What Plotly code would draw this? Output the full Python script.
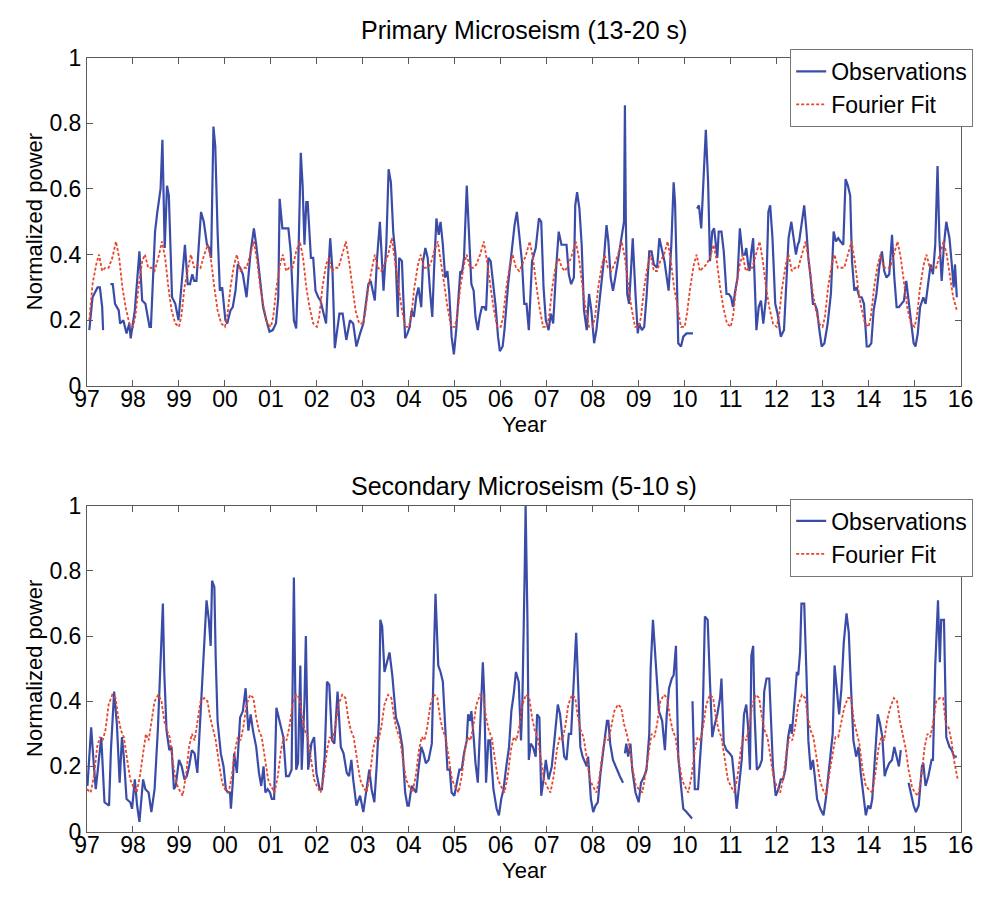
import plotly.graph_objects as go

# ---------------- axes / ticks ----------------
YEAR_TICKS = list(range(1997, 2017))
YEAR_TICK_LABELS = ["97", "98", "99", "00", "01", "02", "03", "04", "05", "06",
                    "07", "08", "09", "10", "11", "12", "13", "14", "15", "16"]
POWER_TICKS = [0, 0.2, 0.4, 0.6, 0.8, 1]
POWER_TICK_LABELS = ["0", "0.2", "0.4", "0.6", "0.8", "1"]

TITLES = ["Primary Microseism (13-20 s)", "Secondary Microseism (5-10 s)"]
X_LABEL = "Year"
Y_LABEL = "Normalized power"
SERIES_NAMES = ["Observations", "Fourier Fit"]

# ---------------- Primary microseism observations ----------------
PRIMARY_OBS_YEAR = [
    1997.05, 1997.12, 1997.23, 1997.28, 1997.33, 1997.35, 1997.43,
    1997.51, 1997.56, 1997.61, 1997.69, 1997.72, 1997.79, 1997.86, 1997.92, 1997.95,
    1998.04, 1998.14, 1998.20, 1998.27, 1998.36, 1998.39, 1998.48, 1998.53, 1998.60,
    1998.64, 1998.69, 1998.74, 1998.78, 1998.85, 1998.92, 1998.99,
    1999.10, 1999.13, 1999.19, 1999.24, 1999.29, 1999.33, 1999.38, 1999.48, 1999.54,
    1999.61, 1999.66, 1999.70, 1999.75, 1999.79, 1999.84, 1999.89, 1999.94,
    2000.01, 2000.05, 2000.12, 2000.17, 2000.23, 2000.28, 2000.33, 2000.39, 2000.47,
    2000.56, 2000.63, 2000.68, 2000.76, 2000.83, 2000.90, 2000.97,
    2001.04, 2001.11, 2001.16, 2001.19, 2001.25, 2001.32, 2001.38, 2001.43, 2001.46,
    2001.50, 2001.55, 2001.59, 2001.65, 2001.69, 2001.73, 2001.77, 2001.80, 2001.87,
    2001.92, 2001.97,
    2002.03, 2002.08, 2002.13, 2002.20, 2002.25, 2002.29, 2002.34, 2002.39, 2002.49,
    2002.56, 2002.64, 2002.72, 2002.79, 2002.86, 2002.94,
    2003.01, 2003.12, 2003.17, 2003.26, 2003.31, 2003.37, 2003.40, 2003.45, 2003.51,
    2003.56, 2003.61, 2003.66, 2003.71, 2003.76, 2003.79, 2003.85, 2003.88, 2003.92, 2003.97,
    2004.02, 2004.06, 2004.11, 2004.16, 2004.21, 2004.27, 2004.31, 2004.36, 2004.41,
    2004.46, 2004.51, 2004.55, 2004.60, 2004.65, 2004.69, 2004.74, 2004.79, 2004.84,
    2004.88, 2004.93, 2004.98,
    2005.03, 2005.08, 2005.12, 2005.15, 2005.20, 2005.26, 2005.31, 2005.36, 2005.41,
    2005.45, 2005.50, 2005.54, 2005.59, 2005.64, 2005.68, 2005.73, 2005.78, 2005.84,
    2005.89, 2005.94, 2005.98,
    2006.04, 2006.08, 2006.16, 2006.23, 2006.30, 2006.35, 2006.40, 2006.46, 2006.51,
    2006.56, 2006.61, 2006.68, 2006.76, 2006.83, 2006.88, 2006.93, 2006.98,
    2007.04, 2007.09, 2007.14, 2007.21, 2007.26, 2007.32, 2007.38, 2007.43, 2007.48,
    2007.53, 2007.59, 2007.62, 2007.66, 2007.71, 2007.76, 2007.81, 2007.87, 2007.92, 2007.97,
    2008.03, 2008.08, 2008.17, 2008.24, 2008.30, 2008.34, 2008.39, 2008.44, 2008.49,
    2008.56, 2008.63, 2008.68, 2008.70, 2008.72, 2008.75, 2008.79, 2008.84, 2008.87,
    2008.93, 2008.98,
    2009.01, 2009.07, 2009.12, 2009.17, 2009.23, 2009.28, 2009.33, 2009.40, 2009.45,
    2009.51, 2009.56, 2009.65, 2009.71, 2009.76, 2009.79, 2009.83, 2009.86, 2009.92, 2009.97,
    2010.04, 2010.18, 2010.22,
    2010.27, 2010.31, 2010.36, 2010.41, 2010.46, 2010.51, 2010.55, 2010.60, 2010.64,
    2010.71, 2010.74, 2010.80, 2010.85, 2010.91, 2010.96,
    2011.01, 2011.05, 2011.10, 2011.15, 2011.20, 2011.26, 2011.31, 2011.34, 2011.38,
    2011.41, 2011.45, 2011.49, 2011.52, 2011.56, 2011.61, 2011.66, 2011.71, 2011.77,
    2011.82, 2011.86, 2011.91, 2011.97,
    2012.02, 2012.09, 2012.16, 2012.23, 2012.26, 2012.32, 2012.37, 2012.42, 2012.46,
    2012.49, 2012.54, 2012.60, 2012.65, 2012.69, 2012.74, 2012.79, 2012.83, 2012.88,
    2012.93, 2012.98,
    2013.04, 2013.11, 2013.18, 2013.24, 2013.29, 2013.34, 2013.39, 2013.45, 2013.50,
    2013.55, 2013.60, 2013.64, 2013.69, 2013.74, 2013.80, 2013.85, 2013.90, 2013.96,
    2014.01, 2014.06, 2014.11, 2014.17, 2014.24, 2014.29, 2014.34, 2014.39, 2014.45,
    2014.51, 2014.56, 2014.61, 2014.66, 2014.72, 2014.77, 2014.82, 2014.87, 2014.92, 2014.98,
    2015.02, 2015.07, 2015.12, 2015.19, 2015.24, 2015.30, 2015.35, 2015.40, 2015.45,
    2015.50, 2015.54, 2015.59, 2015.64, 2015.69, 2015.76, 2015.81, 2015.85, 2015.88, 2015.92,
]
PRIMARY_OBS_POWER = [
    0.17, 0.27, 0.30, 0.30, 0.24, 0.17, None,
    0.31, 0.31, 0.25, 0.23, 0.19, 0.20, 0.16, 0.19, 0.145,
    0.23, 0.41, 0.26, 0.25, 0.18, 0.18, 0.47, 0.53, 0.60,
    0.75, 0.42, 0.61, 0.58, 0.27, 0.25, 0.20,
    0.40, 0.43, 0.31, 0.31, 0.34, 0.32, 0.32, 0.53, 0.50,
    0.43, 0.42, 0.39, 0.79, 0.73, 0.47, 0.29, 0.30,
    0.20, 0.19, 0.23, 0.24, 0.29, 0.37, 0.36, 0.34, 0.27,
    0.41, 0.48, 0.43, 0.33, 0.24, 0.20, 0.165,
    0.17, 0.19, 0.27, 0.57, 0.48, 0.48, 0.48, 0.41, 0.33,
    0.20, 0.175, 0.34, 0.71, 0.61, 0.43, 0.56, 0.56, 0.39,
    0.39, 0.29,
    0.27, 0.26, 0.23, 0.19, 0.35, 0.45, 0.35, 0.115, 0.22,
    0.22, 0.14, 0.20, 0.19, 0.12, 0.16,
    0.19, 0.31, 0.32, 0.26, 0.39, 0.50, 0.42, 0.29, 0.43,
    0.66, 0.62, 0.47, 0.40, 0.21, 0.39, 0.38, 0.27, 0.145, 0.16,
    0.18, 0.23, 0.21, 0.27, 0.30, 0.24, 0.38, 0.42, 0.39,
    0.29, 0.21, 0.36, 0.51, 0.46, 0.50, 0.43, 0.33, 0.35,
    0.28, 0.15, 0.096,
    0.17, 0.27, 0.35, 0.34, 0.39, 0.61, 0.44, 0.31, 0.29,
    0.21, 0.17, 0.21, 0.24, 0.24, 0.23, 0.39, 0.38, 0.30,
    0.24, 0.15, 0.106,
    0.12, 0.17, 0.31, 0.41, 0.49, 0.53, 0.46, 0.38, 0.25,
    0.25, 0.17, 0.38, 0.42, 0.51, 0.50, 0.30, 0.20,
    0.17, 0.22, 0.19, 0.37, 0.47, 0.43, 0.43, 0.43, 0.34,
    0.31, 0.33, 0.55, 0.59, 0.54, 0.43, 0.23, 0.17, 0.28, 0.23,
    0.13, 0.17, 0.29, 0.38, 0.49, 0.44, 0.33, 0.29, 0.33,
    0.39, 0.46, 0.50, 0.855, 0.50, 0.28, 0.25, 0.37, 0.45,
    0.28, 0.16,
    0.19, 0.17, 0.18, 0.27, 0.41, 0.41, 0.37, 0.36, 0.45,
    0.41, 0.38, 0.29, 0.43, 0.62, 0.56, 0.33, 0.13, 0.12, 0.15,
    0.16, 0.16, None,
    0.54, 0.55, 0.48, 0.64, 0.78, 0.62, 0.38, 0.47, 0.48,
    0.39, 0.47, 0.47, 0.41, 0.28, 0.28,
    0.27, 0.24, 0.29, 0.33, 0.48, 0.40, 0.40, 0.42, 0.37,
    0.35, 0.41, 0.45, 0.33, 0.17, 0.24, 0.26, 0.19, 0.27,
    0.53, 0.55, 0.45, 0.25,
    0.22, 0.15, 0.17, 0.37, 0.45, 0.50, 0.45, 0.40, 0.43,
    0.44, 0.49, 0.55, 0.47, 0.39, 0.33, 0.25, 0.25, 0.23,
    0.17, 0.12,
    0.13, 0.19, 0.28, 0.47, 0.44, 0.45, 0.44, 0.43, 0.63,
    0.61, 0.58, 0.38, 0.29, 0.30, 0.27, 0.27, 0.25, 0.12,
    0.12, 0.13, 0.23, 0.28, 0.37, 0.41, 0.35, 0.33, 0.34,
    0.46, 0.33, 0.24, 0.24, 0.25, 0.26, 0.32, 0.26, 0.19, 0.13,
    0.12, 0.16, 0.24, 0.27, 0.25, 0.31, 0.37, 0.34, 0.43,
    0.67, 0.45, 0.32, 0.43, 0.50, 0.45, 0.37, 0.30, 0.37, 0.27,
]

# ---------------- Primary microseism Fourier fit (one row per year) ----------------
PRIMARY_FIT_PHASE = [0.00, 0.05, 0.12, 0.20, 0.26, 0.33, 0.40, 0.47, 0.55, 0.63, 0.70, 0.77, 0.84, 0.92]
PRIMARY_FIT_YEARS = list(range(1997, 2016))
PRIMARY_FIT_POWER = [
    [None, 0.20, 0.31, 0.37, 0.40, 0.35, 0.36, 0.36, 0.39, 0.44, 0.39, 0.30, 0.24, 0.19],  # 1997
    [0.18, 0.21, 0.30, 0.38, 0.40, 0.36, 0.36, 0.35, 0.39, 0.44, 0.39, 0.30, 0.23, 0.19],  # 1998
    [0.18, 0.21, 0.30, 0.36, 0.40, 0.36, 0.37, 0.36, 0.40, 0.43, 0.38, 0.30, 0.23, 0.19],  # 1999
    [0.18, 0.21, 0.30, 0.37, 0.40, 0.35, 0.36, 0.36, 0.40, 0.44, 0.38, 0.30, 0.24, 0.19],  # 2000
    [0.18, 0.21, 0.30, 0.37, 0.40, 0.35, 0.36, 0.36, 0.41, 0.44, 0.39, 0.30, 0.24, 0.19],  # 2001
    [0.18, 0.21, 0.30, 0.37, 0.39, 0.35, 0.36, 0.36, 0.40, 0.44, 0.38, 0.30, 0.23, 0.19],  # 2002
    [0.19, 0.22, 0.30, 0.36, 0.40, 0.36, 0.35, 0.37, 0.40, 0.45, 0.38, 0.31, 0.24, 0.18],  # 2003
    [0.18, 0.21, 0.30, 0.37, 0.40, 0.36, 0.36, 0.37, 0.41, 0.44, 0.38, 0.31, 0.24, 0.18],  # 2004
    [0.18, 0.21, 0.30, 0.37, 0.40, 0.36, 0.36, 0.37, 0.40, 0.44, 0.38, 0.31, 0.24, 0.18],  # 2005
    [0.18, 0.21, 0.30, 0.37, 0.40, 0.36, 0.35, 0.37, 0.40, 0.44, 0.39, 0.31, 0.24, 0.18],  # 2006
    [0.18, 0.21, 0.30, 0.37, 0.39, 0.36, 0.35, 0.37, 0.40, 0.44, 0.39, 0.31, 0.24, 0.18],  # 2007
    [0.18, 0.21, 0.30, 0.37, 0.40, 0.36, 0.35, 0.37, 0.40, 0.44, 0.39, 0.31, 0.24, 0.18],  # 2008
    [0.18, 0.21, 0.30, 0.37, 0.40, 0.35, 0.35, 0.38, 0.40, 0.44, 0.38, 0.30, 0.24, 0.18],  # 2009
    [0.18, 0.22, 0.30, 0.37, 0.40, 0.35, 0.36, 0.37, 0.39, 0.43, 0.38, 0.30, 0.24, 0.19],  # 2010
    [0.18, 0.21, 0.30, 0.37, 0.40, 0.35, 0.36, 0.36, 0.40, 0.44, 0.38, 0.30, 0.24, 0.19],  # 2011
    [0.18, 0.21, 0.30, 0.37, 0.40, 0.35, 0.36, 0.36, 0.40, 0.44, 0.38, 0.30, 0.24, 0.19],  # 2012
    [0.18, 0.21, 0.30, 0.37, 0.40, 0.36, 0.36, 0.36, 0.40, 0.44, 0.38, 0.30, 0.24, 0.19],  # 2013
    [0.18, 0.21, 0.30, 0.37, 0.40, 0.36, 0.36, 0.36, 0.40, 0.44, 0.39, 0.31, 0.24, 0.19],  # 2014
    [0.18, 0.21, 0.30, 0.37, 0.40, 0.36, 0.36, 0.36, 0.40, 0.44, 0.40, 0.33, 0.27, 0.23],  # 2015
]

# ---------------- Secondary microseism observations ----------------
SECONDARY_OBS_YEAR = [
    1997.01, 1997.09, 1997.14, 1997.19, 1997.31, 1997.38, 1997.48, 1997.52, 1997.59,
    1997.65, 1997.71, 1997.76, 1997.80, 1997.86, 1997.94, 1997.98,
    1998.04, 1998.09, 1998.14, 1998.22, 1998.27, 1998.34, 1998.40, 1998.47, 1998.54,
    1998.59, 1998.65, 1998.68, 1998.73, 1998.79, 1998.84, 1998.89, 1998.93,
    1999.00, 1999.06, 1999.12, 1999.17, 1999.22, 1999.28, 1999.34, 1999.40, 1999.45,
    1999.50, 1999.56, 1999.60, 1999.65, 1999.69, 1999.72, 1999.77, 1999.80, 1999.84,
    1999.91, 1999.97,
    2000.02, 2000.06, 2000.11, 2000.13, 2000.17, 2000.20, 2000.26, 2000.33, 2000.39,
    2000.45, 2000.51, 2000.56, 2000.61, 2000.68, 2000.74, 2000.79, 2000.84, 2000.88,
    2000.93, 2000.98,
    2001.02, 2001.07, 2001.12, 2001.20, 2001.27, 2001.33, 2001.39, 2001.45, 2001.50,
    2001.55, 2001.59, 2001.64, 2001.67, 2001.73, 2001.76, 2001.81, 2001.88, 2001.94, 2001.99,
    2002.06, 2002.11, 2002.17, 2002.22, 2002.27, 2002.33, 2002.38, 2002.45, 2002.52,
    2002.58, 2002.65, 2002.70, 2002.75, 2002.79, 2002.86, 2002.94,
    2003.01, 2003.08, 2003.14, 2003.19, 2003.25, 2003.30, 2003.35, 2003.38, 2003.42,
    2003.47, 2003.52, 2003.58, 2003.64, 2003.68, 2003.72, 2003.79, 2003.86, 2003.92, 2003.97,
    2004.00, 2004.06, 2004.11, 2004.16, 2004.21, 2004.27, 2004.32, 2004.37, 2004.43,
    2004.50, 2004.55, 2004.58, 2004.64, 2004.69, 2004.74, 2004.79, 2004.84, 2004.89,
    2004.93, 2004.99,
    2005.05, 2005.10, 2005.15, 2005.20, 2005.26, 2005.29, 2005.33, 2005.36, 2005.41,
    2005.45, 2005.50, 2005.54, 2005.57, 2005.61, 2005.64, 2005.68, 2005.73, 2005.77,
    2005.80, 2005.84, 2005.91, 2005.96,
    2006.01, 2006.06, 2006.12, 2006.18, 2006.23, 2006.28, 2006.33, 2006.39, 2006.44,
    2006.47, 2006.52, 2006.54, 2006.58, 2006.61, 2006.65, 2006.70, 2006.76, 2006.79,
    2006.84, 2006.88, 2006.93, 2006.98,
    2007.04, 2007.07, 2007.11, 2007.18, 2007.24, 2007.29, 2007.33, 2007.38, 2007.43,
    2007.48, 2007.53, 2007.59, 2007.64, 2007.67, 2007.73, 2007.78, 2007.83, 2007.87,
    2007.90, 2007.96,
    2008.01, 2008.06, 2008.11, 2008.17, 2008.24, 2008.31, 2008.34, 2008.38, 2008.44,
    2008.52, 2008.59, 2008.66, 2008.68,
    2008.70, 2008.73, 2008.77, 2008.82, 2008.86, 2008.93,
    2009.00, 2009.05, 2009.12, 2009.17, 2009.23, 2009.26, 2009.31, 2009.35, 2009.40,
    2009.44, 2009.51, 2009.57, 2009.61, 2009.66, 2009.72, 2009.76, 2009.81, 2009.83,
    2009.86, 2009.92, 2009.97,
    2010.04, 2010.11, 2010.16, 2010.165,
    2010.17, 2010.22, 2010.29, 2010.34, 2010.39, 2010.44, 2010.50, 2010.55, 2010.60,
    2010.64, 2010.71, 2010.77, 2010.80, 2010.85, 2010.91, 2010.98,
    2011.03, 2011.08, 2011.13, 2011.19, 2011.24, 2011.29, 2011.34, 2011.38, 2011.42,
    2011.45, 2011.49, 2011.52, 2011.57, 2011.63, 2011.68, 2011.73, 2011.78, 2011.84,
    2011.87, 2011.92, 2011.98,
    2012.04, 2012.09, 2012.14, 2012.19, 2012.25, 2012.30, 2012.33, 2012.39, 2012.44,
    2012.47, 2012.51, 2012.54, 2012.60, 2012.65, 2012.69, 2012.74, 2012.79, 2012.83,
    2012.88, 2012.95,
    2013.02, 2013.07, 2013.14, 2013.22, 2013.26, 2013.32, 2013.36, 2013.41, 2013.46,
    2013.52, 2013.57, 2013.60, 2013.67, 2013.73, 2013.78, 2013.83, 2013.89, 2013.94, 2013.99,
    2014.04, 2014.08, 2014.15, 2014.20, 2014.25, 2014.30, 2014.35, 2014.39, 2014.45,
    2014.51, 2014.56, 2014.61, 2014.66, 2014.70, 2014.78,
    2014.87, 2014.98,
    2015.03, 2015.09, 2015.16, 2015.19, 2015.24, 2015.30, 2015.37, 2015.40, 2015.45,
    2015.51, 2015.55, 2015.58, 2015.64, 2015.69, 2015.76, 2015.81, 2015.86, 2015.92,
]
SECONDARY_OBS_POWER = [
    0.14, 0.32, 0.22, 0.13, 0.29, 0.09, 0.08, 0.25, 0.43,
    0.33, 0.15, 0.29, 0.23, 0.10, 0.09, 0.07,
    0.16, 0.08, 0.03, 0.16, 0.13, 0.12, 0.06, 0.13, 0.31,
    0.48, 0.70, 0.49, 0.31, 0.25, 0.26, 0.13, 0.14,
    0.22, 0.20, 0.16, 0.17, 0.20, 0.25, 0.24, 0.18, 0.31,
    0.44, 0.60, 0.71, 0.65, 0.57, 0.77, 0.75, 0.53, 0.34,
    0.24, 0.20,
    0.13, 0.12, 0.12, 0.07, 0.15, 0.24, 0.18, 0.35, 0.37,
    0.44, 0.31, 0.36, 0.31, 0.26, 0.18, 0.14, 0.20, 0.12,
    0.13, 0.12,
    0.10, 0.10, 0.38, 0.33, 0.29, 0.17, 0.17, 0.19, 0.78,
    0.19, 0.21, 0.51, 0.19, 0.40, 0.60, 0.19, 0.27, 0.29, 0.18,
    0.13, 0.13, 0.23, 0.46, 0.45, 0.28, 0.27, 0.43, 0.26,
    0.24, 0.18, 0.17, 0.22, 0.16, 0.08, 0.11,
    0.06, 0.13, 0.19, 0.13, 0.09, 0.20, 0.34, 0.65, 0.63,
    0.49, 0.52, 0.55, 0.48, 0.42, 0.35, 0.32, 0.26, 0.12, 0.08,
    0.08, 0.14, 0.13, 0.12, 0.19, 0.26, 0.24, 0.21, 0.22,
    0.27, 0.57, 0.73, 0.51, 0.49, 0.46, 0.30, 0.19, 0.19,
    0.12, 0.11,
    0.15, 0.19, 0.19, 0.24, 0.28, 0.36, 0.34, 0.37, 0.29,
    0.21, 0.15, 0.28, 0.37, 0.52, 0.42, 0.15, 0.28, 0.28,
    0.21, 0.13, 0.07, 0.05,
    0.10, 0.13, 0.20, 0.26, 0.37, 0.42, 0.49, 0.46, 0.28,
    0.40, 0.80, 1.00, 0.65, 0.22, 0.27, 0.26, 0.23, 0.36,
    0.35, 0.11, 0.16, 0.22,
    0.16, 0.18, 0.20, 0.30, 0.39, 0.36, 0.30, 0.23, 0.22,
    0.30, 0.30, 0.46, 0.61, 0.50, 0.26, 0.23, 0.21, 0.20,
    0.23, 0.10,
    0.06, 0.08, 0.09, 0.18, 0.26, 0.34, 0.34, 0.27, 0.22,
    0.19, 0.17, 0.15, None,
    0.24, 0.27, 0.23, 0.27, 0.19, 0.12,
    0.09, 0.15, 0.17, 0.19, 0.30, 0.50, 0.65, 0.57, 0.46,
    0.37, 0.34, 0.25, 0.36, 0.44, 0.47, 0.48, 0.57, 0.41,
    0.23, 0.14, 0.07,
    0.06, 0.05, 0.04, None,
    0.40, 0.13, 0.13, 0.23, 0.34, 0.66, 0.65, 0.46, 0.29,
    0.32, 0.36, 0.41, 0.47, 0.27, 0.25, 0.24,
    0.23, 0.16, 0.07, 0.15, 0.22, 0.36, 0.39, 0.32, 0.19,
    0.54, 0.57, 0.36, 0.19, 0.20, 0.22, 0.43, 0.47, 0.47,
    0.36, 0.20, 0.11,
    0.13, 0.16, 0.16, 0.19, 0.29, 0.33, 0.30, 0.40, 0.49,
    0.48, 0.55, 0.70, 0.70, 0.48, 0.28, 0.19, 0.22, 0.17,
    0.10, 0.07,
    0.05, 0.10, 0.19, 0.30, 0.51, 0.41, 0.36, 0.44, 0.58,
    0.67, 0.61, 0.50, 0.28, 0.23, 0.26, 0.18, 0.11, 0.05, 0.08,
    0.07, 0.10, 0.26, 0.36, 0.33, 0.29, 0.17, 0.19, 0.21,
    0.22, 0.26, 0.23, 0.20, 0.25, None,
    0.15, 0.08,
    0.06, 0.08, 0.20, 0.21, 0.14, 0.17, 0.22, 0.22, 0.51,
    0.71, 0.52, 0.65, 0.65, 0.29, 0.26, 0.25, 0.23, 0.23,
]

# ---------------- Secondary microseism Fourier fit (one row per year) ----------------
SECONDARY_FIT_PHASE = [0.00, 0.08, 0.15, 0.22, 0.28, 0.34, 0.40, 0.47, 0.55, 0.62, 0.68, 0.74, 0.80, 0.87, 0.94]
SECONDARY_FIT_YEARS = list(range(1997, 2016))
SECONDARY_FIT_POWER = [
    [0.13, 0.12, 0.17, 0.26, 0.29, 0.28, 0.31, 0.39, 0.42, 0.41, 0.35, 0.31, 0.29, 0.22, 0.16],  # 1997
    [0.14, 0.12, 0.17, 0.25, 0.30, 0.28, 0.33, 0.40, 0.42, 0.40, 0.34, 0.31, 0.29, 0.21, 0.15],  # 1998
    [0.13, 0.11, 0.17, 0.26, 0.30, 0.28, 0.33, 0.40, 0.41, 0.40, 0.35, 0.31, 0.28, 0.21, 0.15],  # 1999
    [0.13, 0.12, 0.17, 0.25, 0.29, 0.28, 0.32, 0.39, 0.42, 0.41, 0.35, 0.31, 0.29, 0.22, 0.16],  # 2000
    [0.14, 0.12, 0.17, 0.25, 0.29, 0.28, 0.32, 0.39, 0.42, 0.41, 0.35, 0.31, 0.29, 0.22, 0.16],  # 2001
    [0.14, 0.12, 0.17, 0.25, 0.29, 0.28, 0.32, 0.39, 0.42, 0.41, 0.35, 0.31, 0.29, 0.22, 0.16],  # 2002
    [0.14, 0.12, 0.17, 0.25, 0.29, 0.28, 0.32, 0.39, 0.42, 0.41, 0.35, 0.31, 0.29, 0.22, 0.16],  # 2003
    [0.14, 0.12, 0.17, 0.25, 0.29, 0.28, 0.32, 0.39, 0.42, 0.41, 0.35, 0.31, 0.29, 0.22, 0.16],  # 2004
    [0.14, 0.12, 0.17, 0.25, 0.29, 0.28, 0.32, 0.39, 0.42, 0.41, 0.35, 0.31, 0.29, 0.22, 0.16],  # 2005
    [0.14, 0.12, 0.17, 0.25, 0.29, 0.28, 0.32, 0.39, 0.42, 0.41, 0.35, 0.31, 0.29, 0.22, 0.16],  # 2006
    [0.14, 0.12, 0.17, 0.25, 0.29, 0.28, 0.32, 0.39, 0.42, 0.41, 0.35, 0.31, 0.29, 0.22, 0.16],  # 2007
    [0.14, 0.12, 0.17, 0.25, 0.29, 0.28, 0.32, 0.37, 0.39, 0.38, 0.33, 0.30, 0.26, 0.19, 0.14],  # 2008
    [0.13, 0.12, 0.18, 0.25, 0.30, 0.29, 0.33, 0.40, 0.42, 0.41, 0.35, 0.31, 0.29, 0.22, 0.16],  # 2009
    [0.14, 0.12, 0.17, 0.25, 0.29, 0.28, 0.32, 0.39, 0.42, 0.41, 0.35, 0.31, 0.29, 0.22, 0.16],  # 2010
    [0.14, 0.12, 0.17, 0.25, 0.29, 0.28, 0.32, 0.39, 0.42, 0.41, 0.35, 0.31, 0.29, 0.22, 0.16],  # 2011
    [0.14, 0.12, 0.17, 0.25, 0.29, 0.28, 0.32, 0.39, 0.42, 0.41, 0.35, 0.31, 0.29, 0.22, 0.16],  # 2012
    [0.13, 0.11, 0.18, 0.24, 0.29, 0.29, 0.33, 0.38, 0.41, 0.41, 0.34, 0.30, 0.27, 0.19, 0.14],  # 2013
    [0.13, 0.12, 0.18, 0.26, 0.29, 0.28, 0.34, 0.38, 0.41, 0.40, 0.34, 0.30, 0.26, 0.19, 0.14],  # 2014
    [0.12, 0.11, 0.17, 0.26, 0.30, 0.29, 0.33, 0.40, 0.41, 0.41, 0.33, 0.32, 0.28, 0.21, 0.16],  # 2015
]


def fit_series(years, phases, rows):
    xs, ys = [], []
    for yr, row in zip(years, rows):
        for ph, val in zip(phases, row):
            if val is None:
                continue
            xs.append(yr + ph)
            ys.append(val)
    return xs, ys


OBS_COLOR = "#3a4ca8"
FIT_COLOR = "#e8452c"
FONT = "Liberation Sans, Arial, Helvetica, sans-serif"
AXIS_COLOR = "#5a5a5a"

fig = go.Figure()

panels = [
    (PRIMARY_OBS_YEAR, PRIMARY_OBS_POWER, PRIMARY_FIT_YEARS, PRIMARY_FIT_PHASE, PRIMARY_FIT_POWER, "x", "y", "legend"),
    (SECONDARY_OBS_YEAR, SECONDARY_OBS_POWER, SECONDARY_FIT_YEARS, SECONDARY_FIT_PHASE, SECONDARY_FIT_POWER, "x2", "y2", "legend2"),
]
for oy, op, fy, fph, fp, xa, ya, lg in panels:
    fig.add_trace(go.Scatter(
        x=oy, y=op, mode="lines", name=SERIES_NAMES[0], xaxis=xa, yaxis=ya, legend=lg,
        line=dict(color=OBS_COLOR, width=2.2), connectgaps=False,
    ))
    fx, fv = fit_series(fy, fph, fp)
    fig.add_trace(go.Scatter(
        x=fx, y=fv, mode="lines", name=SERIES_NAMES[1], xaxis=xa, yaxis=ya, legend=lg,
        line=dict(color=FIT_COLOR, width=1.8, dash="3px,2px"),
    ))

W, H = 993, 898
x_dom = [76 / W, 973 / W]
top_dom = [1 - 384 / H, 1 - 46 / H]
bot_dom = [1 - 843 / H, 1 - 507.5 / H]

common_x = dict(
    range=[1997, 2016], tickmode="array", tickvals=YEAR_TICKS, ticktext=YEAR_TICK_LABELS,
    showgrid=False, zeroline=False, showline=True, linecolor=AXIS_COLOR, linewidth=1,
    mirror="ticks", ticks="inside", ticklen=6, tickcolor=AXIS_COLOR,
    tickfont=dict(family=FONT, size=23, color="black"),
    ticklabelstandoff=-7,
    domain=x_dom,
)
common_y = dict(
    range=[0, 1], tickmode="array", tickvals=POWER_TICKS, ticktext=POWER_TICK_LABELS,
    showgrid=False, zeroline=False, showline=True, linecolor=AXIS_COLOR, linewidth=1,
    mirror="ticks", ticks="inside", ticklen=6, tickcolor=AXIS_COLOR,
    tickfont=dict(family=FONT, size=23, color="black"),
)

legend_style = dict(
    bgcolor="white", bordercolor="#777777", borderwidth=1,
    font=dict(family=FONT, size=23, color="black"),
    xanchor="right", yanchor="top", x=986 / W, tracegroupgap=0,
)


def label(text, x, y, angle=0, size=23):
    return dict(text=text, xref="paper", yref="paper", x=x / W, y=1 - y / H,
                xanchor="center", yanchor="middle", showarrow=False, textangle=angle,
                font=dict(family=FONT, size=size, color="black"))


fig.update_layout(
    width=W, height=H, margin=dict(l=0, r=0, t=0, b=0),
    paper_bgcolor="white", plot_bgcolor="white",
    showlegend=True,
    xaxis=dict(common_x, anchor="y"),
    yaxis=dict(common_y, domain=top_dom, anchor="x"),
    xaxis2=dict(common_x, anchor="y2"),
    yaxis2=dict(common_y, domain=bot_dom, anchor="x2"),
    legend=dict(legend_style, y=1 - 37 / H),
    legend2=dict(legend_style, y=1 - 500 / H),
    annotations=[
        label(TITLES[0], 524.5, 18, size=25),
        label(TITLES[1], 524.5, 487, size=25),
        label(X_LABEL, 524.5, 424, size=22),
        label(X_LABEL, 524.5, 883, size=22),
        label(Y_LABEL, 22, 215, angle=-90, size=22),
        label(Y_LABEL, 22, 675, angle=-90, size=22),
    ],
)

fig.write_html("out.html")
